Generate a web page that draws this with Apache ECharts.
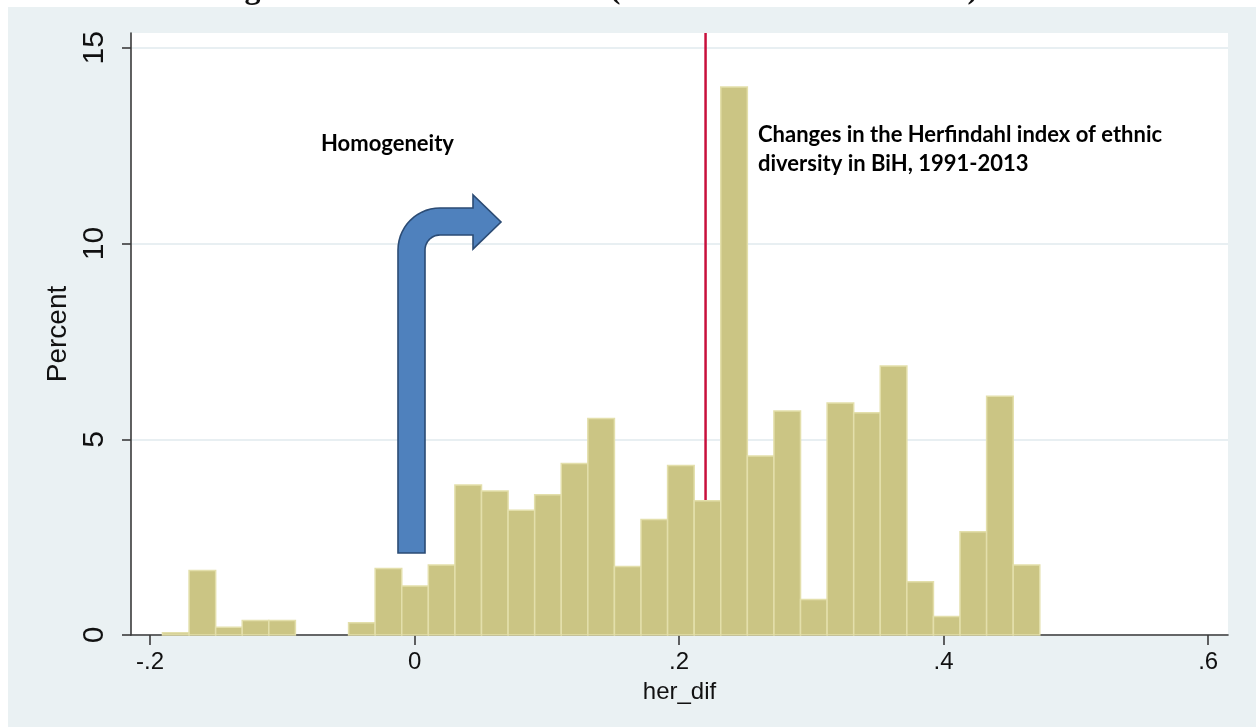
<!DOCTYPE html>
<html>
<head>
<meta charset="utf-8">
<script src="https://cdn.jsdelivr.net/npm/echarts@6/dist/echarts.min.js"></script>
<style>
  html, body { margin: 0; padding: 0; background: #ffffff; }
  #chart { width: 1256px; height: 727px; }
</style>
</head>
<body>
<div id="chart"></div>
<script>
// Histogram of her_dif: 33 equal-width bins, heights in percent
const binStart = -0.1906;
const binWidth = 0.0201;
const percent = [
  0.06, 1.65, 0.20, 0.37, 0.37, 0, 0, 0.31, 1.70, 1.25, 1.79,
  3.83, 3.68, 3.19, 3.58, 4.38, 5.53, 1.75, 2.95, 4.33, 3.43,
  14.0, 4.57, 5.72, 0.91, 5.93, 5.68, 6.87, 1.36, 0.47, 2.64, 6.10, 1.79
];
const meanValue = 0.22;

const xTicks = [-0.2, 0, 0.2, 0.4, 0.6];
const xTickLabels = ['-.2', '0', '.2', '.4', '.6'];
const yTicks = [0, 5, 10, 15];
const yTickLabels = ['0', '5', '10', '15'];
const xTitle = 'her_dif';
const yTitle = 'Percent';

const captionText = 'based on the change in the Herfindahl index (red line is the mean value)';
const noteHomogeneity = 'Homogeneity';
const noteLines = ['Changes in the Herfindahl index of ethnic', 'diversity in BiH, 1991-2013'];

// axis extents
const xMin = -0.2144, xMax = 0.615;
const yMin = 0, yMax = 15.38;

// table for the custom series: [left edge, right edge, percent]
const bins = percent.map((p, i) => [binStart + i * binWidth, binStart + (i + 1) * binWidth, p]);

const axisColor = '#3a3a3a';
const labelFont = 'Liberation Sans, Arial, sans-serif';
const narrowFont = '"Liberation Sans Narrow", "Liberation Sans", Arial, sans-serif';
const noteFont = 'Lato, "Open Sans", sans-serif';

function labelFor(ticks, labels) {
  return function (v) {
    for (let i = 0; i < ticks.length; i++) {
      if (Math.abs(ticks[i] - v) < 1e-9) return labels[i];
    }
    return '';
  };
}

// bent blue arrow (pixel outline, corner arcs sampled)
function bentArrow() {
  const cx = 440, cy = 250, rOut = 42, rIn = 15;
  const pts = [[398, 553]];
  const n = 14;
  for (let k = 0; k <= n; k++) {
    const a = Math.PI + (Math.PI / 2) * (k / n);
    pts.push([cx + rOut * Math.cos(a), cy + rOut * Math.sin(a)]);
  }
  pts.push([473, 208], [473, 195], [501, 222], [473, 249], [473, 235]);
  for (let k = 0; k <= n; k++) {
    const a = 1.5 * Math.PI - (Math.PI / 2) * (k / n);
    pts.push([cx + rIn * Math.cos(a), cy + rIn * Math.sin(a)]);
  }
  pts.push([425, 553]);
  return pts;
}

const chart = echarts.init(document.getElementById('chart'), null, { renderer: 'canvas' });

chart.setOption({
  backgroundColor: '#eaf1f3',
  animation: false,
  grid: {
    left: 131, right: 28, top: 33, bottom: 92,
    show: true, backgroundColor: '#ffffff', borderWidth: 0
  },
  xAxis: {
    type: 'value', min: xMin, max: xMax,
    axisLine: { show: true, onZero: false, lineStyle: { color: axisColor, width: 1.6 } },
    axisTick: { show: true, customValues: xTicks, length: 10, lineStyle: { color: axisColor, width: 1.6 } },
    axisLabel: {
      customValues: xTicks, formatter: labelFor(xTicks, xTickLabels),
      fontFamily: labelFont, fontSize: 24, color: '#111', margin: 15
    },
    splitLine: { show: false },
    name: xTitle, nameLocation: 'middle', nameGap: 45,
    nameTextStyle: { fontFamily: labelFont, fontSize: 24, color: '#111' }
  },
  yAxis: {
    type: 'value', min: yMin, max: yMax, interval: 5,
    axisLine: { show: true, onZero: false, lineStyle: { color: axisColor, width: 1.6 } },
    axisTick: { show: true, customValues: yTicks, length: 9, lineStyle: { color: axisColor, width: 1.6 } },
    axisLabel: {
      customValues: yTicks, formatter: labelFor(yTicks, yTickLabels), rotate: 90,
      fontFamily: narrowFont, fontSize: 30, color: '#111', margin: 21
    },
    splitLine: { show: true, lineStyle: { color: '#e8eff2', width: 2 } },
    name: yTitle, nameLocation: 'middle', nameRotate: 90, nameGap: 53,
    nameTextStyle: { fontFamily: narrowFont, fontSize: 28, color: '#111' }
  },
  series: [
    {
      // mean of her_dif
      type: 'line', z: 1, silent: true, symbol: 'none',
      data: [[meanValue, yMin], [meanValue, yMax]],
      lineStyle: { color: '#c8103c', width: 2.5 }
    },
    {
      type: 'custom', z: 2, silent: true,
      data: bins,
      encode: { x: [0, 1], y: 2 },
      renderItem: function (params, api) {
        const v = api.value(2);
        if (!(v > 0)) return null;
        const pTop = api.coord([api.value(0), v]);
        const pBase = api.coord([api.value(1), 0]);
        return {
          type: 'rect',
          shape: { x: pTop[0], y: pTop[1], width: pBase[0] - pTop[0], height: pBase[1] - pTop[1] },
          style: { fill: '#cbc584', stroke: '#e3dfab', lineWidth: 1.5 }
        };
      }
    }
  ],
  graphic: [
    // page strip above and left of the graph region
    { type: 'rect', silent: true, z: 0, shape: { x: 0, y: 0, width: 1256, height: 7 }, style: { fill: '#ffffff' } },
    { type: 'rect', silent: true, z: 0, shape: { x: 0, y: 0, width: 8, height: 727 }, style: { fill: '#ffffff' } },
    {
      type: 'text', silent: true, z: 1, x: 0, y: -10.5,
      style: { text: captionText, font: 'bold 32px "Liberation Serif", "Times New Roman", serif', fill: '#111', verticalAlign: 'middle' }
    },
    {
      type: 'polygon', silent: true, z: 10,
      shape: { points: bentArrow() },
      style: { fill: '#4f81bd', stroke: '#2b4b74', lineWidth: 1.6 }
    },
    {
      type: 'text', silent: true, z: 10, x: 321, y: 144,
      style: { text: noteHomogeneity, font: 'bold 22px ' + noteFont, fill: '#000', verticalAlign: 'middle' }
    },
    {
      type: 'text', silent: true, z: 10, x: 758, y: 135,
      style: { text: noteLines[0], font: 'bold 22px ' + noteFont, fill: '#000', verticalAlign: 'middle' }
    },
    {
      type: 'text', silent: true, z: 10, x: 758, y: 164,
      style: { text: noteLines[1], font: 'bold 22px ' + noteFont, fill: '#000', verticalAlign: 'middle' }
    }
  ]
});
</script>
</body>
</html>
